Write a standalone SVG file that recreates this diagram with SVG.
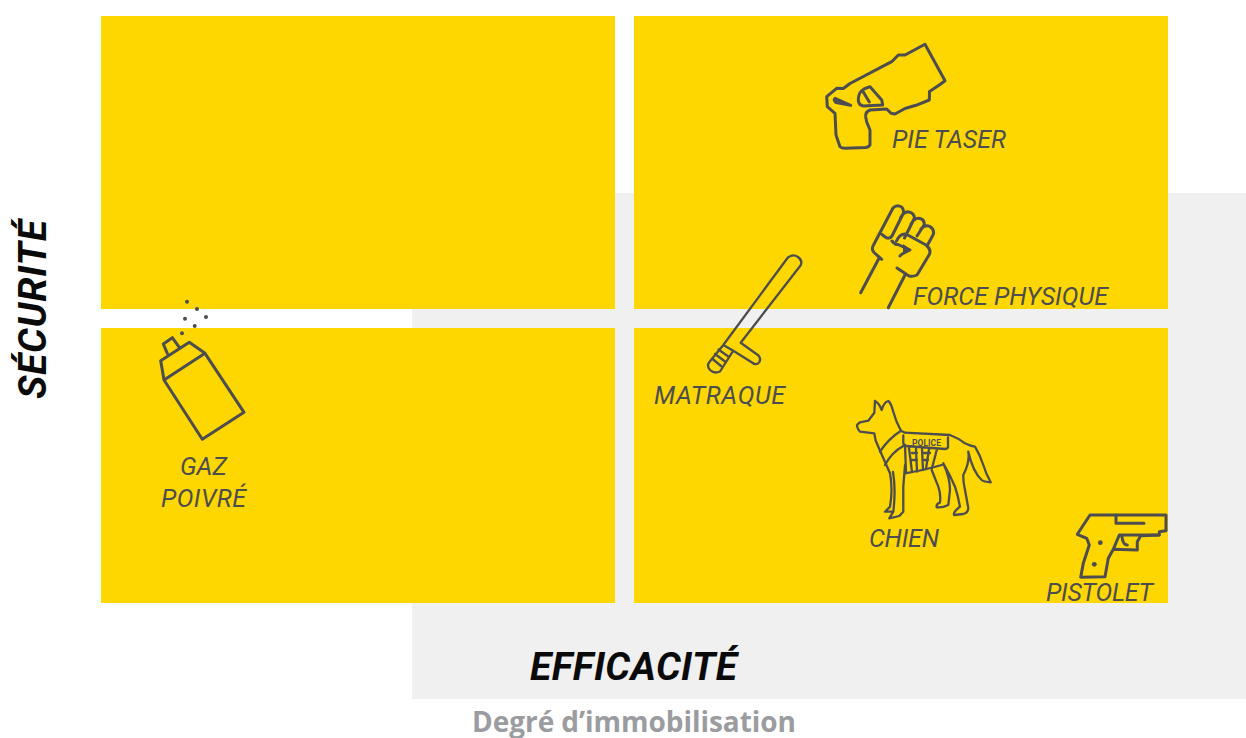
<svg xmlns="http://www.w3.org/2000/svg" width="1246" height="738" viewBox="0 0 1246 738">
<style>
.y{fill:#ffd700}
.i{fill:none;stroke:#4d4d4f;stroke-width:3;stroke-linejoin:round;stroke-linecap:round}
.t{fill:none;stroke:#4d4d4f;stroke-width:2.300;stroke-linejoin:round;stroke-linecap:round}
.d{fill:#4d4d4f}
.l{font-family:Roboto,"Liberation Sans",sans-serif;font-style:italic;font-weight:400;font-size:25px;fill:#4d4d4f}
.a{font-family:Roboto,"Liberation Sans",sans-serif;font-style:italic;font-weight:700;font-size:39px;fill:#0a0a0a}
</style>
<rect id="bg" x="412" y="193" width="834" height="506" fill="#f0f0f0"/>
<g id="quadrants">
<rect class="y" x="101" y="16" width="514" height="293"/>
<rect class="y" x="634" y="16" width="534" height="293"/>
<rect class="y" x="101" y="328" width="514" height="275"/>
<rect class="y" x="634" y="328" width="534" height="275"/>
</g>
<g id="taser">
<path class="i" d="M925 44.300L945 80.700L939.300 85L929.500 91.500L929.300 100L916 105.300L905 108.500L895 114L891 113.300L886.700 109L870 110Q865 112 865.700 117L866.700 122L870 130L870 145Q869 147 866 147.500L845 148.300Q841 148 840 146.700L836 135L835 113.300L827.300 106.700L826.700 96.700L836.700 88.300L843.300 88.500L850 83.500L891.700 61.700L898.300 55L905 55Z"/>
<path class="i" d="M870 86.700L881.700 100L882.700 105L863.300 106Q858 105 858.300 99Q858.500 92 864 89ZM863.300 92L869.300 102"/>
<path class="i" d="M835 98.300L850.700 105.300L836 102.500Q833 100 835 98.300Z"/>
<text class="l" x="892" y="148" textLength="114">PIE TASER</text>
</g>
<g id="force">
<path class="i" d="M879 258.300L860.700 292.700M905 275L888.300 307.700"/>
<path class="i" d="M881.700 259.300L874 252.500Q871 249 873.500 245L893 208Q897 204 901.500 207Q904 209 903.500 213L892 236Q889 240 884.500 236.500L882 234.500M900.500 218Q904 211 909 212Q914 213 914.500 218L904.500 238M911 224Q915 217 920 218.500Q925 220 924 225L917 236M921 229Q925 224 930 226.500Q935 230 933 235L927 246M896.500 241Q900 233 906 234L926 245Q932 250 929 255L917 275Q913 277 909 276L897 268"/>
<path class="i" d="M892 241Q895 245 898 244.500L910 250L902 254L900 256"/>
<path class="d" d="M903 244L911 249.500L903 255Z"/>
<text class="l" x="913" y="305" textLength="195">FORCE PHYSIQUE</text>
</g>
<g id="matraque">
<path class="t" d="M787.700 257.700Q793 253.500 798 257Q803 261 800.500 265.500L740.700 342.700L758.500 355.500Q762 360 758 363.500Q755 365 752 362.500L733.300 350.700L720 371.500Q714 374 710 370Q706.500 366 709 362.500L723.300 345ZM723.300 345L733.300 350.700M718.500 349.500L729 357M715 354L725 361.500M712 358.500L721 366"/>
<text class="l" x="654" y="404" textLength="131">MATRAQUE</text>
</g>
<g id="gaz">
<path class="i" d="M160.700 360.700L189.300 342.300L205 353.300L244 412.300L202.300 439.300L164 380ZM164 380L205 353.300M167.300 353.300L163.300 344L172.300 337.700L179.300 347.300"/>
<g class="d">
<circle cx="187" cy="301.700" r="2"/><circle cx="197" cy="309" r="2"/><circle cx="206" cy="317" r="2"/><circle cx="185" cy="318.700" r="2"/><circle cx="194.700" cy="326" r="2"/><circle cx="182" cy="333.300" r="2"/>
</g>
<text class="l" x="180" y="475" textLength="47">GAZ</text>
<text class="l" x="161" y="507" textLength="85">POIVRÉ</text>
</g>
<g id="chien">
<path class="t" d="M875 401Q879 403 881.700 410Q884 402 888.300 401Q891 403 893.300 411.700Q896 422 901 430.700L905 432.700L950 435Q958 438 965 443.300Q970 446 975 446.700Q980 455 983.300 465Q986 474 990.700 482.300Q984 482 981.700 480Q973 472 968.300 451.700Q970 462 963.300 475Q963 482 965 490L968.300 508Q968 513 963.300 514L954 515Q953 512 960 506.700Q958 496 955 486.700Q950 475 943.300 463.300Q950 478 950 490L948.300 505Q942 508 936.700 507.300Q936 504 940 502.700Q941 494 938.300 486.700L931.700 470M941.700 465Q925 470 905 473.300"/>
<path class="t" d="M875 401L874.300 412.700L868.300 420.700L860 422.300Q856 425 857.300 427Q858 430 860 431.700L874.300 433.300Q875 441 878.300 446.700L890 473.300Q893 490 890 506.700L885 511.700L893 511.500M893 472Q896 490 893.300 511.700L889.300 518.300L899.300 516L903.300 511.700L903.300 486.700L905 465"/>
<path class="t" d="M901 430.700Q888 439 880 451.700M903.300 446Q892 452 885 465M905 445L906 473M948 437.500L948 447.500Q947 449 945 449L906.500 446Q903.300 445 903.300 443L903.300 435.500M909 448L912 472M916 449L917 471.500M922 449L923 470M929 449L926 469M937 449L932 468M912 453L917 453M912 460L917 460M923 453L930 453M923 460L928 460"/>
<text x="926.500" y="445.500" text-anchor="middle" font-family="Roboto,'Liberation Sans',sans-serif" font-size="8.500" font-weight="700" fill="#4d4d4f" textLength="29">POLICE</text>
<text class="l" x="869" y="547" textLength="70">CHIEN</text>
</g>
<g id="pistolet">
<path class="i" d="M1090 515L1166 515L1166 530.700L1159.300 531.700L1159.300 535L1140.700 535.700L1137.300 541.700L1137.300 550L1113.300 549.300L1108.300 558.300L1105 576.700L1080.700 577.300L1083.300 563.300L1089.300 545L1086.700 538.300L1077.300 534.300Z"/>
<path class="i" d="M1116 515L1116 523.300L1144 523.300M1159 535L1119.300 535L1113.300 549.300M1121.700 535.700Q1123 545 1127.300 545"/>
<circle class="d" cx="1100.300" cy="542.700" r="2.400"/><circle class="d" cx="1094.300" cy="564.300" r="2.400"/>
<text class="l" x="1046" y="601" textLength="107">PISTOLET</text>
</g>
<text id="y-axis" class="a" transform="translate(46 399) rotate(-90)" textLength="179">SÉCURITÉ</text>
<text id="x-axis" class="a" x="530" y="680" textLength="207">EFFICACITÉ</text>
<text id="x-sub" x="472" y="732" font-family="'Open Sans','Noto Sans',sans-serif" font-weight="700" font-size="28px" fill="#9b9c9f" textLength="324">Degré d’immobilisation</text>
</svg>
